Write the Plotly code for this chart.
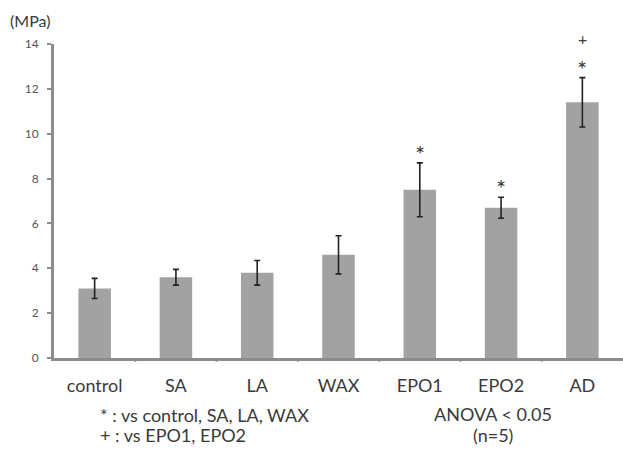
import plotly.graph_objects as go

categories = ["control", "SA", "LA", "WAX", "EPO1", "EPO2", "AD"]
means = [3.1, 3.6, 3.8, 4.6, 7.5, 6.7, 11.4]
errors = [0.45, 0.35, 0.55, 0.85, 1.2, 0.47, 1.1]
star_marks = ["", "", "", "", "*", "*", "*"]
plus_marks = ["", "", "", "", "", "", "+"]
y_ticks = [0, 2, 4, 6, 8, 10, 12, 14]
y_max = 14
notes_left = ["* : vs control, SA, LA, WAX", "+ : vs EPO1, EPO2"]
notes_right = ["ANOVA < 0.05", "(n=5)"]

W, H = 623, 454
ML, MR, MT, MB = 54, 0, 44, 96
font = "Lato, 'Open Sans', sans-serif"
txt = "#3a3a3a"
idx = list(range(len(categories)))


def px_to_paper(px, py):
    return (px - ML) / (W - ML - MR), (H - MB - py) / (H - MT - MB)


fig = go.Figure()
fig.add_trace(go.Bar(
    x=idx, y=means,
    width=0.4,
    marker=dict(color="#a2a2a2", line=dict(width=0)),
    error_y=dict(type="data", array=errors, visible=True,
                 color="#222222", thickness=1.6, width=3),
    hoverinfo="skip",
))

annos = []
for i in idx:
    top = means[i] + errors[i]
    if star_marks[i]:
        annos.append(dict(x=i, y=(top + 0.68) / y_max, xref="x", yref="paper",
                          text=star_marks[i], showarrow=False, yanchor="middle",
                          yshift=-6, font=dict(family=font, size=24, color=txt)))
    if plus_marks[i]:
        annos.append(dict(x=i, y=(top + 1.75) / y_max, xref="x", yref="paper",
                          text=plus_marks[i], showarrow=False, yanchor="middle",
                          font=dict(family=font, size=16, color=txt)))

mx, my = px_to_paper(8, 20)
annos.append(dict(x=mx, y=my, xref="paper", yref="paper", text="(MPa)",
                  showarrow=False, xanchor="left", yanchor="middle",
                  font=dict(family=font, size=16, color=txt)))
for k, t in enumerate(notes_left):
    nx, ny = px_to_paper(98, 415 + 20 * k)
    annos.append(dict(x=nx, y=ny, xref="paper", yref="paper", text=t,
                      showarrow=False, xanchor="left", yanchor="middle",
                      font=dict(family=font, size=18, color=txt)))
for k, t in enumerate(notes_right):
    nx, ny = px_to_paper(493, 414 + 21 * k)
    annos.append(dict(x=nx, y=ny, xref="paper", yref="paper", text=t,
                      showarrow=False, xanchor="center", yanchor="middle",
                      font=dict(family=font, size=18, color=txt)))

shapes = []
for j in range(len(categories) - 1):
    shapes.append(dict(type="line", xref="x", yref="paper",
                       x0=j + 0.5, x1=j + 0.5, y0=0, y1=-0.012,
                       line=dict(color="#8c8c8c", width=2)))

fig.update_layout(
    width=W, height=H,
    margin=dict(l=ML, r=MR, t=MT, b=MB),
    paper_bgcolor="white", plot_bgcolor="white",
    showlegend=False,
    font=dict(family=font, color=txt),
    annotations=annos, shapes=shapes,
)
fig.update_xaxes(
    range=[-0.5, len(categories) - 0.5],
    tickvals=idx, ticktext=categories,
    tickfont=dict(family=font, size=18, color=txt),
    showgrid=False, zeroline=False,
    showline=True, linecolor="#8c8c8c", linewidth=2.5,
    ticks="", ticklabelstandoff=10,
)
fig.update_yaxes(
    range=[0, y_max], tickvals=y_ticks,
    tickfont=dict(family=font, size=12, color="#555555"),
    showgrid=False, zeroline=False,
    showline=True, linecolor="#8c8c8c", linewidth=3,
    ticks="outside", ticklen=4, tickcolor="#8c8c8c", tickwidth=1.5,
    ticklabelstandoff=6,
)

fig.write_html("out.html")
